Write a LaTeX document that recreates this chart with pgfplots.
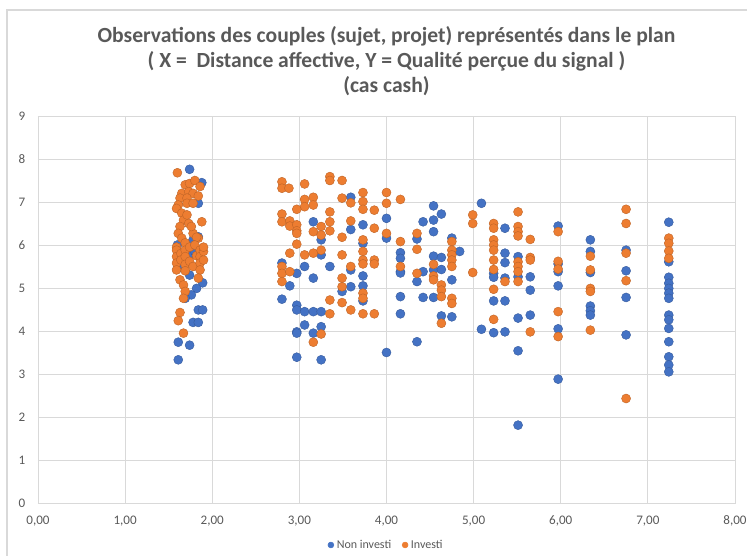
\documentclass[border=0pt]{standalone}
\usepackage{pgfplots}
\pgfplotsset{compat=1.18}
\usepackage{fontspec}
\setmainfont{Carlito}
\definecolor{cblue}{HTML}{4472C4}
\definecolor{corange}{HTML}{ED7D31}
\definecolor{txt}{HTML}{595959}
\definecolor{grd}{HTML}{D9D9D9}
\begin{document}
\begin{tikzpicture}
\useasboundingbox (-28.5pt,-39.75pt) rectangle (531.75pt,377.25pt);
\draw[grd, line width=0.8pt] (-23.25pt,-45pt) -- (-23.25pt,369.75pt) -- (540pt,369.75pt);
\begin{axis}[
  at={(0,0)}, anchor=south west,
  scale only axis, width=522.75pt, height=290.25pt,
  xmin=0, xmax=8, ymin=0, ymax=9,
  xtick={0,1,...,8}, ytick={0,1,...,9},
  major tick length=0pt,
  grid=major, major grid style={grd, line width=0.6pt},
  axis line style={grd, line width=0.6pt},
  /pgf/number format/assume math mode=true,
  xticklabel style={/pgf/number format/fixed, /pgf/number format/fixed zerofill, /pgf/number format/precision=2, /pgf/number format/use comma, yshift=-6pt},
  yticklabel style={/pgf/number format/fixed, /pgf/number format/precision=0, xshift=-6pt},
  ticklabel style={font=\fontsize{9.8}{11}\selectfont, text=txt},
  title={Observations des couples (sujet, projet) représentés dans le plan\\( X =\ \ Distance affective, Y = Qualité perçue du signal )\\(cas cash)},
  title style={at={(0.5,1)}, anchor=center, yshift=35.25pt, align=center,
    font=\fontsize{16.2}{18.5}\selectfont\bfseries, text=txt},
  legend style={at={(0.5,-0.1085)}, anchor=center, draw=none, fill=none,
    font=\fontsize{9}{11}\selectfont, text=txt, legend columns=2,
    /tikz/every even column/.append style={column sep=6pt}},
  legend image code/.code={\fill[#1] (0.1cm,0cm) circle (2.2pt);},
  legend cell align=left,
]
\addplot[only marks, mark=*, mark size=3.4pt, mark options={fill=cblue, draw=cblue!80!black, line width=0.3pt}, fill=cblue, draw=cblue] table {
x y
1.74 7.76
1.88 7.45
1.84 6.97
1.78 6.12
1.84 6.19
1.60 6.00
1.76 5.80
1.80 5.85
1.60 5.45
1.74 5.30
1.89 5.12
1.82 4.99
1.76 4.84
1.69 4.76
1.84 4.49
1.89 4.49
1.78 4.20
1.84 4.20
1.61 3.74
1.74 3.67
1.61 3.33
2.80 5.58
2.97 5.34
2.89 5.05
3.16 6.54
3.25 6.12
3.59 7.11
3.59 6.36
3.73 6.47
3.73 6.04
3.25 5.77
3.06 5.50
3.35 5.50
3.16 5.23
3.59 5.42
3.73 5.28
3.73 5.05
3.49 4.92
3.59 5.03
3.73 4.70
2.80 4.74
2.97 4.60
2.97 4.49
3.06 4.45
3.16 4.45
3.25 4.45
3.06 4.14
2.97 3.98
2.97 3.95
3.16 3.95
3.25 4.10
2.97 3.39
3.25 3.33
4.00 6.62
4.00 6.16
4.00 3.50
4.16 5.82
4.16 5.69
4.16 5.38
4.16 5.35
4.16 4.80
4.16 4.40
4.35 6.14
4.35 5.15
4.42 5.38
4.35 3.75
4.42 6.54
4.54 6.58
4.63 6.72
4.54 6.91
4.54 6.31
4.54 5.74
4.63 5.71
4.54 5.42
4.63 5.43
4.42 4.78
4.54 4.78
4.63 4.35
4.75 6.16
4.84 5.85
4.75 5.19
4.75 4.33
5.09 6.97
5.09 4.04
5.23 5.34
5.23 5.25
5.23 4.70
5.23 3.96
5.36 6.39
5.36 5.81
5.36 5.59
5.36 5.23
5.36 4.70
5.36 3.98
5.51 5.73
5.51 5.26
5.51 4.30
5.51 3.54
5.51 1.81
5.65 5.26
5.65 4.95
5.65 4.37
5.97 6.44
5.97 5.56
5.97 5.38
5.97 5.05
5.97 4.05
5.97 2.88
6.34 6.12
6.34 5.85
6.34 5.36
6.34 4.58
6.34 4.47
6.34 4.37
6.75 5.88
6.75 5.40
6.75 4.78
6.75 3.91
7.24 6.53
7.24 5.61
7.24 5.25
7.24 5.11
7.24 4.99
7.24 4.88
7.24 4.76
7.24 4.37
7.24 4.26
7.24 4.06
7.24 3.75
7.24 3.40
7.24 3.21
7.24 3.05
};
\addlegendentry{Non investi}
\addplot[only marks, mark=*, mark size=3.4pt, mark options={fill=corange, draw=corange!80!black, line width=0.3pt}, fill=corange, draw=corange] table {
x y
1.60 7.68
1.69 7.40
1.74 7.43
1.80 7.50
1.86 7.36
1.65 7.20
1.73 7.24
1.78 7.20
1.63 7.09
1.61 6.93
1.59 6.85
1.84 7.14
1.71 7.09
1.71 6.97
1.78 6.97
1.65 6.74
1.67 6.58
1.63 6.43
1.61 6.27
1.65 6.16
1.71 6.70
1.73 6.50
1.88 6.54
1.78 6.27
1.84 6.16
1.76 6.43
1.82 6.18
1.59 5.95
1.59 5.88
1.59 5.73
1.59 5.58
1.59 5.42
1.64 5.80
1.64 5.65
1.69 6.05
1.69 5.88
1.69 5.73
1.69 5.55
1.69 5.40
1.74 5.95
1.74 5.62
1.78 5.50
1.80 6.00
1.82 5.75
1.86 5.88
1.86 5.73
1.86 5.58
1.86 5.42
1.90 5.65
1.90 5.85
1.90 5.95
1.63 5.19
1.67 5.07
1.84 5.23
1.69 4.92
1.67 4.76
1.63 4.43
1.61 4.24
1.67 3.95
2.80 7.47
2.80 7.32
2.88 7.32
3.06 7.42
3.35 7.59
3.35 7.50
3.49 7.50
3.49 7.09
3.59 6.98
3.73 7.22
3.73 7.01
3.73 6.83
3.86 6.81
3.06 7.06
3.16 7.11
3.16 6.93
3.06 6.89
2.97 6.83
2.80 6.72
2.80 6.54
2.89 6.56
2.89 6.44
2.97 6.47
2.97 6.33
2.97 6.27
3.16 6.31
3.25 6.43
3.25 6.23
3.35 6.77
3.35 6.54
3.35 6.33
3.49 6.18
3.59 6.56
3.86 6.39
2.97 6.02
3.73 6.12
2.89 5.81
2.80 5.50
2.80 5.34
2.80 5.15
2.89 5.38
3.06 5.77
3.16 5.81
3.25 5.88
3.49 5.77
3.59 5.50
3.73 5.85
3.73 5.65
3.73 5.56
3.86 5.65
3.86 5.56
3.49 5.23
3.49 5.03
3.73 4.88
3.73 4.76
3.35 4.72
3.35 4.40
3.49 4.66
3.59 4.49
3.73 4.40
3.86 4.40
3.25 3.93
3.16 3.74
4.00 7.22
4.00 6.97
4.00 6.27
4.16 7.06
4.16 6.08
4.16 5.50
4.35 6.27
4.35 5.90
4.35 5.34
4.54 5.55
4.54 5.28
4.54 5.19
4.63 5.07
4.63 4.95
4.63 4.80
4.63 4.18
4.75 6.08
4.75 5.88
4.75 5.77
4.75 5.65
4.75 5.50
4.75 4.76
4.75 4.64
4.99 6.70
4.99 6.50
4.99 5.36
5.23 6.50
5.23 6.39
5.23 6.12
5.23 6.00
5.23 5.88
5.23 5.65
5.23 5.43
5.23 4.97
5.23 4.27
5.36 5.15
5.51 6.77
5.51 6.43
5.51 6.31
5.51 6.21
5.51 5.61
5.51 5.50
5.51 5.38
5.51 5.15
5.65 6.13
5.65 5.71
5.65 5.65
5.65 3.98
5.97 6.31
5.97 5.62
5.97 5.44
5.97 4.45
5.97 3.87
6.34 5.74
6.34 5.42
6.34 4.99
6.34 4.92
6.34 4.02
6.75 6.83
6.75 6.50
6.75 5.81
6.75 5.17
6.75 2.43
7.24 6.16
7.24 6.04
7.24 5.86
7.24 5.69
};
\addlegendentry{Investi}
\end{axis}
\end{tikzpicture}
\end{document}
